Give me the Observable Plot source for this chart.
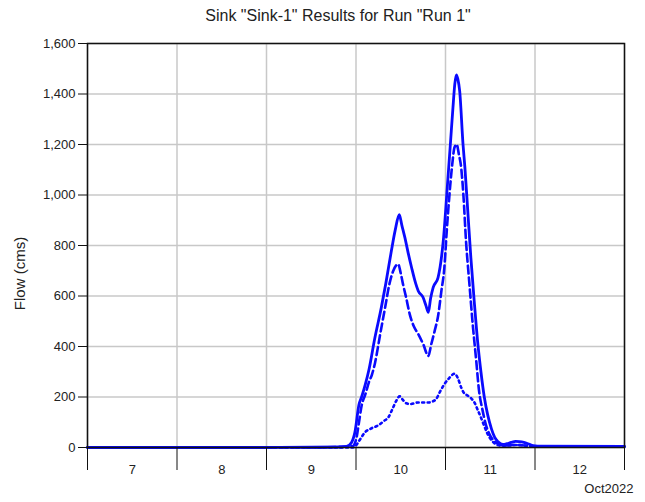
<!DOCTYPE html>
<html>
<head>
<meta charset="utf-8">
<script src="https://cdn.jsdelivr.net/npm/d3@7"></script>
<script src="https://cdn.jsdelivr.net/npm/@observablehq/plot@0.6"></script>
<style>
  body { margin: 0; background: #fff; font-family: "Liberation Sans", Arial, sans-serif; }
  #wrap { position: relative; width: 645px; height: 502px; }
  #title { position: absolute; top: 7px; left: 0; width: 676px; text-align: center; font-size: 16px; color: #222; white-space: nowrap; }
  #chart { position: absolute; top: 0; left: 0; }
</style>
</head>
<body>
<div id="wrap">
  <div id="chart"></div>
  <div id="title">Sink "Sink-1" Results for Run "Run 1"</div>
</div>
<script>
// Hours relative to 2022-10-10 00:00
const baseDate = "2022-10-10T00:00:00Z";

const solidHours = [-72, -24, -12, -4, -2.5, -1.2, -0.3, 0.8, 1.5, 2.5, 3.5, 5, 6.8, 8, 9.5, 10.5, 11.6, 12.3, 13.1, 14, 14.9, 16, 16.7, 18, 18.8, 19.4, 20, 20.7, 22, 23.4, 24.6, 25.3, 26, 26.5, 26.9, 27.3, 27.8, 28.7, 29.2, 30, 30.8, 31.7, 32.6, 33.5, 34.4, 35.3, 36.3, 37.2, 38.1, 39.4, 40.5, 41.6, 42.8, 43.8, 45, 46.1, 47.5, 48.7, 72];
const solidFlow = [0, 0, 1, 2, 4, 20, 60, 170, 200, 250, 310, 430, 555, 650, 780, 860, 922, 880, 832, 770, 713, 650, 620, 594, 560, 535, 590, 634, 673, 818, 1056, 1200, 1346, 1440, 1476, 1460, 1412, 1200, 1109, 930, 752, 580, 422, 300, 200, 130, 75, 40, 23, 12, 15, 20, 24, 23, 20, 15, 7, 5, 4];

const dashedHours = [-72, -12, -1, 0, 0.8, 1.5, 2.5, 3.5, 4.3, 5.1, 6.5, 7.8, 9, 10, 10.8, 11.3, 12, 12.6, 13.5, 14.4, 15.5, 16.7, 18, 19.4, 20.2, 21.1, 22, 22.9, 23.7, 24.3, 25, 25.8, 26.4, 27, 27.6, 28.2, 28.8, 29.5, 30.4, 31.3, 32.2, 33, 33.9, 34.8, 35.7, 36.6, 37.7, 38.8, 40, 42, 44, 46, 48, 72];
const dashedFlow = [0, 0, 5, 30, 100, 165, 210, 260, 290, 335, 450, 554, 650, 700, 722, 726, 690, 647, 590, 528, 480, 449, 410, 363, 410, 462, 520, 620, 713, 850, 990, 1120, 1188, 1200, 1160, 1109, 1000, 818, 650, 488, 350, 224, 150, 92, 55, 33, 18, 10, 8, 10, 10, 6, 4, 3];

const dottedHours = [-72, -1, 0, 1, 2.4, 4, 6, 7.5, 8.7, 9.7, 10.8, 11.7, 12.5, 13.5, 14.5, 16.6, 19.3, 20.5, 21.5, 22.5, 23.7, 25, 26.4, 27.3, 28.2, 29, 30, 31, 31.7, 32.6, 33.5, 34.4, 35.3, 36.4, 37.5, 39, 41, 43, 45, 47, 72];
const dottedFlow = [0, 0, 8, 30, 60, 75, 88, 105, 120, 150, 185, 203, 190, 175, 172, 178, 178, 182, 192, 220, 251, 275, 292, 275, 238, 215, 205, 193, 180, 150, 119, 85, 53, 28, 13, 7, 8, 10, 8, 5, 3];

const yTicks = [0, 200, 400, 600, 800, 1000, 1200, 1400, 1600];
const dayBounds = ["2022-10-07", "2022-10-08", "2022-10-09", "2022-10-10", "2022-10-11", "2022-10-12", "2022-10-13"];
const dayMids = ["2022-10-07T12:00Z", "2022-10-08T12:00Z", "2022-10-09T12:00Z", "2022-10-10T12:00Z", "2022-10-11T12:00Z", "2022-10-12T12:00Z"];
const dayLabels = ["7", "8", "9", "10", "11", "12"];
const unitLabel = "Oct2022";
const yLabel = "Flow (cms)";

const base = new Date(baseDate).getTime();
const toRows = (hours, flow) => hours.map((h, i) => ({t: new Date(base + h * 3600e3), v: flow[i]}));
const solid = toRows(solidHours, solidFlow);
const dashed = toRows(dashedHours, dashedFlow);
const dotted = toRows(dottedHours, dottedFlow);
const bounds = dayBounds.map(d => new Date(d + "T00:00:00Z"));
const mids = dayMids.map(d => new Date(d));

const blue = "#0a0aff";
const grid = "#c8c8c8";

const chart = Plot.plot({
  width: 645,
  height: 502,
  marginTop: 43,
  marginBottom: 55,
  marginLeft: 87,
  marginRight: 21,
  style: {fontFamily: "'Liberation Sans', Arial, sans-serif", fontSize: "13px", color: "#222", background: "white"},
  x: {type: "utc", domain: [bounds[0], bounds[bounds.length - 1]]},
  y: {domain: [0, 1600]},
  marks: [
    Plot.gridX(bounds, {stroke: grid, strokeOpacity: 1, strokeWidth: 1.5}),
    Plot.gridY(yTicks, {stroke: grid, strokeOpacity: 1, strokeWidth: 1.5}),
    Plot.line(dotted, {x: "t", y: "v", stroke: blue, strokeWidth: 2.6, strokeDasharray: "2,3.5", curve: "monotone-x"}),
    Plot.line(dashed, {x: "t", y: "v", stroke: blue, strokeWidth: 2.6, strokeDasharray: "8,4", curve: "monotone-x"}),
    Plot.line(solid, {x: "t", y: "v", stroke: blue, strokeWidth: 2.8, curve: "monotone-x"}),
    Plot.frame({stroke: "#111", strokeWidth: 1.5}),
    Plot.axisY(yTicks, {tickFormat: d3.format(","), tickSize: 9, tickPadding: 3, label: null, stroke: "#111"}),
    Plot.axisX(bounds, {tickSize: 23, tickFormat: () => "", label: null, stroke: "#111"}),
    Plot.axisX(mids, {tickSize: 0, tickPadding: 17, tickFormat: (d, i) => dayLabels[i], label: null}),
    Plot.text([yLabel], {frameAnchor: "left", rotate: -90, dx: -67, dy: 28, fontSize: 15, textAnchor: "middle", fill: "#222"}),
    Plot.text([unitLabel], {frameAnchor: "bottom-right", dx: 9, dy: 45, textAnchor: "end", fontSize: 13, fill: "#222"})
  ]
});
document.getElementById("chart").appendChild(chart);
</script>
</body>
</html>
